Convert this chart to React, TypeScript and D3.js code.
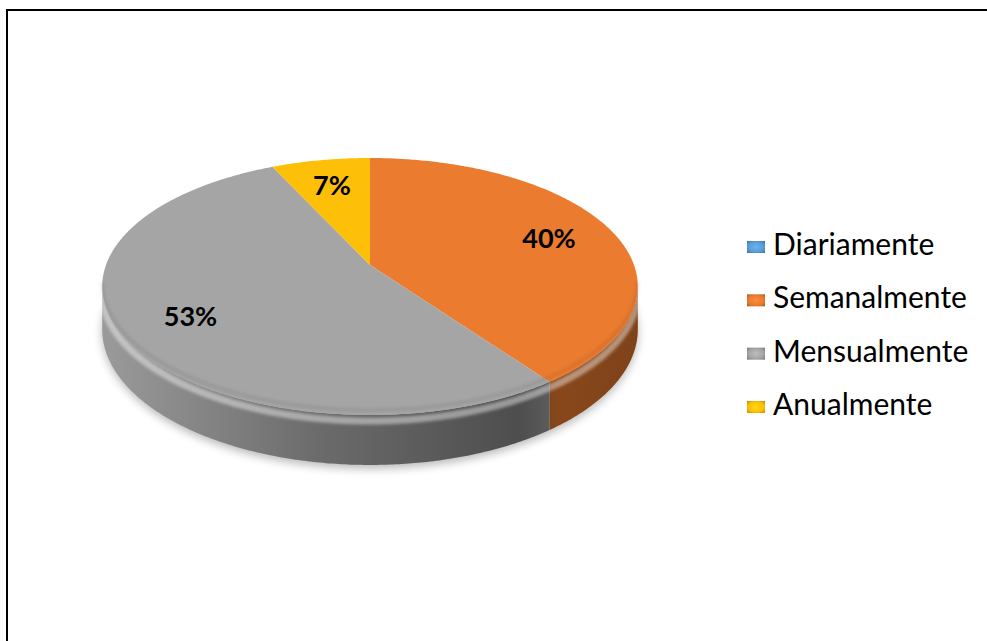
import React from "react";
import * as d3 from "d3";

const categories = ["Diariamente", "Semanalmente", "Mensualmente", "Anualmente"];
const values = [0, 40, 53, 7];
const labels = ["0%", "40%", "53%", "7%"];
const colors = ["#5B9BD5", "#EA7B2F", "#A5A5A5", "#FDBF07"];

const W = 987;
const H = 641;
const cx = 370;
const cy = 265;
const sR = 264; // horizontal scale
const vR = 124.9; // vertical scale
const k = 0.1673; // perspective factor
const dep = 41.6; // side depth

function proj(theta: number, r = 1, lower = 0): [number, number] {
  const c = Math.cos(theta);
  const s = Math.sin(theta);
  const d = 1 + k * r * c;
  return [cx + (sR * r * s) / d, cy + (-vR * r * c + lower) / d];
}

function samples(a0: number, a1: number): number[] {
  const n = Math.max(2, Math.ceil((a1 - a0) / 0.01));
  return d3.range(n + 1).map((i) => a0 + ((a1 - a0) * i) / n);
}

const line = d3.line<[number, number]>();

function topPath(a0: number, a1: number): string {
  const pts: [number, number][] = [[cx, cy], ...samples(a0, a1).map((a) => proj(a))];
  return line(pts) + "Z";
}

const vis0 = Math.PI / 2 + Math.asin(k);
const vis1 = 2 * Math.PI - vis0;

function sidePath(a0: number, a1: number): string | null {
  const s0 = Math.max(a0, vis0);
  const s1 = Math.min(a1, vis1);
  if (s1 <= s0) return null;
  const ss = samples(s0, s1);
  const topPts = ss.map((a) => proj(a));
  const botPts = ss.slice().reverse().map((a) => proj(a, 1, dep));
  return line([...topPts, ...botPts]) + "Z";
}

function edgePath(a0: number, a1: number, lower: number): string | null {
  const s0 = Math.max(a0, vis0);
  const s1 = Math.min(a1, vis1);
  if (s1 <= s0) return null;
  return line(samples(s0, s1).map((a) => proj(a, 1, lower)));
}

export default function App() {
  const arcs = d3
    .pie<number>()
    .sort(null)
    .startAngle(0)
    .endAngle(2 * Math.PI)(values);

  const shadowPts = samples(vis0 - 0.3, vis1 + 0.3).map((a) => proj(a, 1, dep + 3));
  const shadowTop = samples(vis0 - 0.3, vis1 + 0.3).reverse().map((a) => proj(a, 0.97));
  const shadowPath = line([...shadowPts, ...shadowTop]) + "Z";

  const legendY = d3.scalePoint<string>().domain(categories).range([255, 415]);

  return (
    <div style={{ position: "absolute", left: 0, top: 0, width: W, height: H, background: "#fff" }}>
      <svg width={W} height={H} style={{ display: "block" }}>
        <defs>
          <linearGradient id="sideShade" gradientUnits="userSpaceOnUse" x1={cx - sR} x2={cx + sR} y1={0} y2={0}>
            <stop offset="0" stopColor="#000" stopOpacity={0.07} />
            <stop offset="0.4" stopColor="#000" stopOpacity={0.35} />
            <stop offset="0.78" stopColor="#000" stopOpacity={0.53} />
            <stop offset="0.86" stopColor="#000" stopOpacity={0.42} />
            <stop offset="1" stopColor="#000" stopOpacity={0.46} />
          </linearGradient>
          <filter id="blur6" x="-20%" y="-20%" width="140%" height="140%">
            <feGaussianBlur stdDeviation={5} />
          </filter>
          <filter id="blur2" x="-10%" y="-50%" width="120%" height="200%">
            <feGaussianBlur stdDeviation={1.8} />
          </filter>
          {colors.map((c, i) => (
            <radialGradient key={i} id={`leg${i}`} cx="0.5" cy="0.5" r="0.7">
              <stop offset="0" stopColor={d3.color(c)!.brighter(0.4).formatHex()} />
              <stop offset="0.6" stopColor={c} />
              <stop offset="1" stopColor={d3.color(c)!.darker(0.9).formatHex()} />
            </radialGradient>
          ))}
        </defs>

        {/* frame */}
        <line x1={7} x2={W} y1={10} y2={10} stroke="#000" strokeWidth={2} />
        <line x1={7} x2={7} y1={9} y2={H} stroke="#000" strokeWidth={2} />

        {/* shadow */}
        <path d={shadowPath} fill="#000" opacity={0.28} filter="url(#blur6)" />

        {/* sides */}
        {arcs.map((a, i) => {
          const d = sidePath(a.startAngle, a.endAngle);
          return d ? (
            <g key={`s${i}`}>
              <path d={d} fill={colors[i]} />
              <path d={d} fill="url(#sideShade)" />
            </g>
          ) : null;
        })}
        {/* bevel highlight along top of side */}
        {arcs.map((a, i) => {
          const d = edgePath(a.startAngle, a.endAngle, 5);
          return d ? (
            <path key={`h${i}`} d={d} fill="none" stroke="#fff" strokeOpacity={0.42} strokeWidth={7} filter="url(#blur2)" />
          ) : null;
        })}

        {/* top faces */}
        {arcs.map((a, i) =>
          a.endAngle > a.startAngle ? (
            <path key={`t${i}`} d={topPath(a.startAngle, a.endAngle)} fill={colors[i]} />
          ) : null
        )}
        {/* inner rim shading on top face */}
        {arcs.map((a, i) => {
          const d = edgePath(a.startAngle, a.endAngle, -4);
          return d ? (
            <path key={`r${i}`} d={d} fill="none" stroke="#000" strokeOpacity={0.07} strokeWidth={4} filter="url(#blur2)" />
          ) : null;
        })}

        {/* data labels */}
        {arcs.map((a, i) => {
          if (a.value <= 0) return null;
          const mid = (a.startAngle + a.endAngle) / 2;
          const [x, y] = proj(mid, 0.74);
          return (
            <text
              key={`l${i}`}
              x={x}
              y={y}
              textAnchor="middle"
              dominantBaseline="central"
              fontFamily="Lato, 'Open Sans', sans-serif"
              fontWeight="bold"
              fontSize={27}
              fill="#000"
            >
              {labels[i]}
            </text>
          );
        })}

        {/* legend */}
        {categories.map((c, i) => {
          const y = legendY(c)!;
          return (
            <g key={`g${i}`}>
              <rect x={747} y={y - 14} width={18} height={12} fill={`url(#leg${i})`} />
              <text x={773} y={y} fontFamily="Lato, 'Open Sans', sans-serif" fontSize={30} fill="#000">
                {c}
              </text>
            </g>
          );
        })}
      </svg>
    </div>
  );
}
